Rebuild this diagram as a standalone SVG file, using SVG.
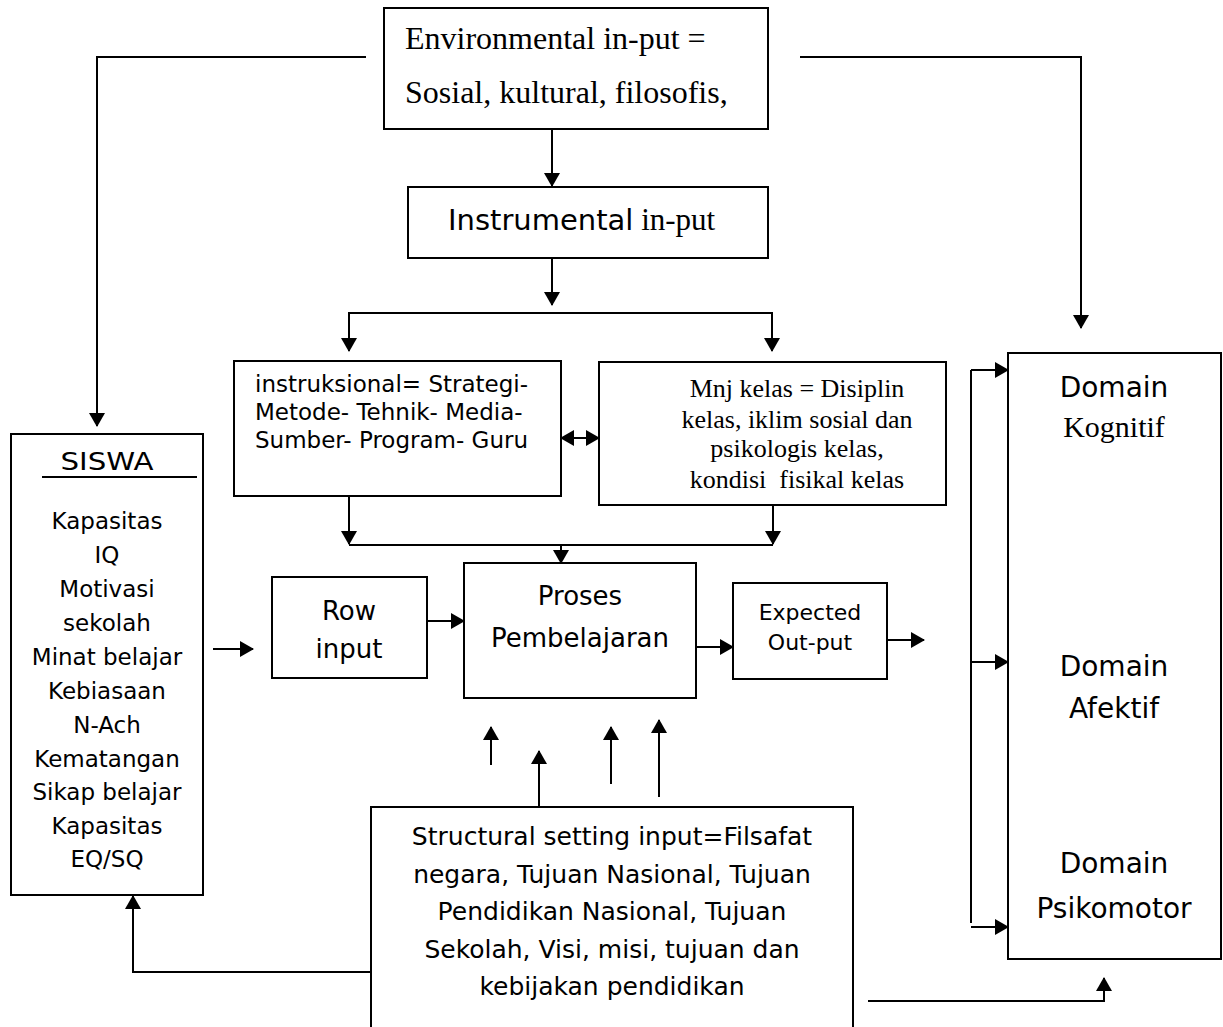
<svg xmlns="http://www.w3.org/2000/svg" width="1223" height="1027" viewBox="0 0 1223 1027">
<style>
.box{fill:#fff;stroke:#000;stroke-width:2}
.ln{fill:none;stroke:#000;stroke-width:2}
.ar{fill:none;stroke:#000;stroke-width:2;marker-end:url(#ah)}
.cs{font-family:"DejaVu Sans","Liberation Sans",sans-serif;fill:#000}
.tm{font-family:"Liberation Serif","Times New Roman",serif;fill:#000}
.mid{text-anchor:middle}
</style>
<defs>
<marker id="ah" viewBox="0 0 14 16" refX="13" refY="8" markerWidth="14" markerHeight="16" markerUnits="userSpaceOnUse" orient="auto-start-reverse">
<path d="M0,0 L14,8 L0,16 z" fill="#000"/>
</marker>
</defs>
<rect width="1223" height="1027" fill="#fff"/>

<g id="connectors">
<path class="ar" d="M366,57 H97 V426"/>
<path class="ar" d="M800,57 H1081 V328"/>
<path class="ar" d="M552,129 V186"/>
<path class="ar" d="M552,258 V305"/>
<path class="ar" d="M552,313 H349 V351"/>
<path class="ar" d="M552,313 H772 V351"/>
<path class="ln" d="M561,438 H599" marker-start="url(#ah)" marker-end="url(#ah)"/>
<path class="ar" d="M349,496 V544"/>
<path class="ar" d="M773,505 V544"/>
<path class="ln" d="M349,545 H773"/>
<path class="ar" d="M561,545 V563"/>
<path class="ar" d="M213,649 H253"/>
<path class="ar" d="M427,621 H464"/>
<path class="ar" d="M696,647 H733"/>
<path class="ar" d="M887,640 H924"/>
<path class="ar" d="M491,765 V727"/>
<path class="ar" d="M539,807 V751"/>
<path class="ar" d="M611,784 V727"/>
<path class="ar" d="M659,797 V720"/>
<path class="ar" d="M371,972 H133 V896"/>
<path class="ar" d="M868,1001 H1104 V978"/>
<path class="ln" d="M971,923 V370"/>
<path class="ar" d="M971,370 H1008"/>
<path class="ar" d="M971,662 H1008"/>
<path class="ar" d="M971,927 H1008"/>
</g>

<g id="environmental">
<rect class="box" x="384" y="8" width="384" height="121"/>
<text class="tm" x="405" y="49" font-size="32">Environmental in-put =</text>
<text class="tm" x="405" y="103" font-size="32">Sosial, kultural, filosofis,</text>
</g>

<g id="instrumental">
<rect class="box" x="408" y="187" width="360" height="71"/>
<text x="448" y="230"><tspan class="cs" font-size="29">Instrumental</tspan><tspan class="tm" font-size="31"> in-put</tspan></text>
</g>

<g id="instruksional">
<rect class="box" x="234" y="361" width="327" height="135"/>
<text class="cs" font-size="23" x="255" y="392">instruksional= Strategi-</text>
<text class="cs" font-size="23" x="255" y="420">Metode- Tehnik- Media-</text>
<text class="cs" font-size="23" x="255" y="448">Sumber- Program- Guru</text>
</g>

<g id="mnj-kelas">
<rect class="box" x="599" y="362" width="347" height="143"/>
<text class="tm mid" font-size="26" x="797" y="397">Mnj kelas = Disiplin</text>
<text class="tm mid" font-size="26" x="797" y="428">kelas, iklim sosial dan</text>
<text class="tm mid" font-size="26" x="797" y="457">psikologis kelas,</text>
<text class="tm mid" font-size="26" x="797" y="488" xml:space="preserve">kondisi  fisikal kelas</text>
</g>

<g id="siswa">
<rect class="box" x="11" y="434" width="192" height="461"/>
<text class="cs mid" font-size="24" x="107" y="470" textLength="93" lengthAdjust="spacingAndGlyphs">SISWA</text>
<line class="ln" x1="42" y1="477" x2="197" y2="477"/>
<g class="cs mid" font-size="23">
<text x="107" y="529">Kapasitas</text>
<text x="107" y="563">IQ</text>
<text x="107" y="597">Motivasi</text>
<text x="107" y="631">sekolah</text>
<text x="107" y="665">Minat belajar</text>
<text x="107" y="699">Kebiasaan</text>
<text x="107" y="733">N-Ach</text>
<text x="107" y="767">Kematangan</text>
<text x="107" y="800">Sikap belajar</text>
<text x="107" y="834">Kapasitas</text>
<text x="107" y="867">EQ/SQ</text>
</g>
</g>

<g id="row-input">
<rect class="box" x="272" y="577" width="155" height="101"/>
<text class="cs mid" font-size="26" x="349" y="620">Row</text>
<text class="cs mid" font-size="26" x="349" y="658">input</text>
</g>

<g id="proses">
<rect class="box" x="464" y="563" width="232" height="135"/>
<text class="cs mid" font-size="26" x="580" y="605">Proses</text>
<text class="cs mid" font-size="26" x="580" y="647">Pembelajaran</text>
</g>

<g id="expected">
<rect class="box" x="733" y="583" width="154" height="96"/>
<text class="cs mid" font-size="22" x="810" y="620">Expected</text>
<text class="cs mid" font-size="22" x="810" y="650">Out-put</text>
</g>

<g id="structural">
<rect class="box" x="371" y="807" width="482" height="240"/>
<g class="cs mid" font-size="25">
<text x="612" y="845">Structural setting input=Filsafat</text>
<text x="612" y="883">negara, Tujuan Nasional, Tujuan</text>
<text x="612" y="920">Pendidikan Nasional, Tujuan</text>
<text x="612" y="958">Sekolah, Visi, misi, tujuan dan</text>
<text x="612" y="995">kebijakan pendidikan</text>
</g>
</g>

<g id="domain">
<rect class="box" x="1008" y="353" width="213" height="606"/>
<text class="cs mid" font-size="28" x="1114" y="397">Domain</text>
<text class="tm mid" font-size="30" x="1114" y="437">Kognitif</text>
<text class="cs mid" font-size="28" x="1114" y="676">Domain</text>
<text class="cs mid" font-size="28" x="1114" y="718">Afektif</text>
<text class="cs mid" font-size="28" x="1114" y="873">Domain</text>
<text class="cs mid" font-size="28" x="1114" y="918">Psikomotor</text>
</g>
</svg>
